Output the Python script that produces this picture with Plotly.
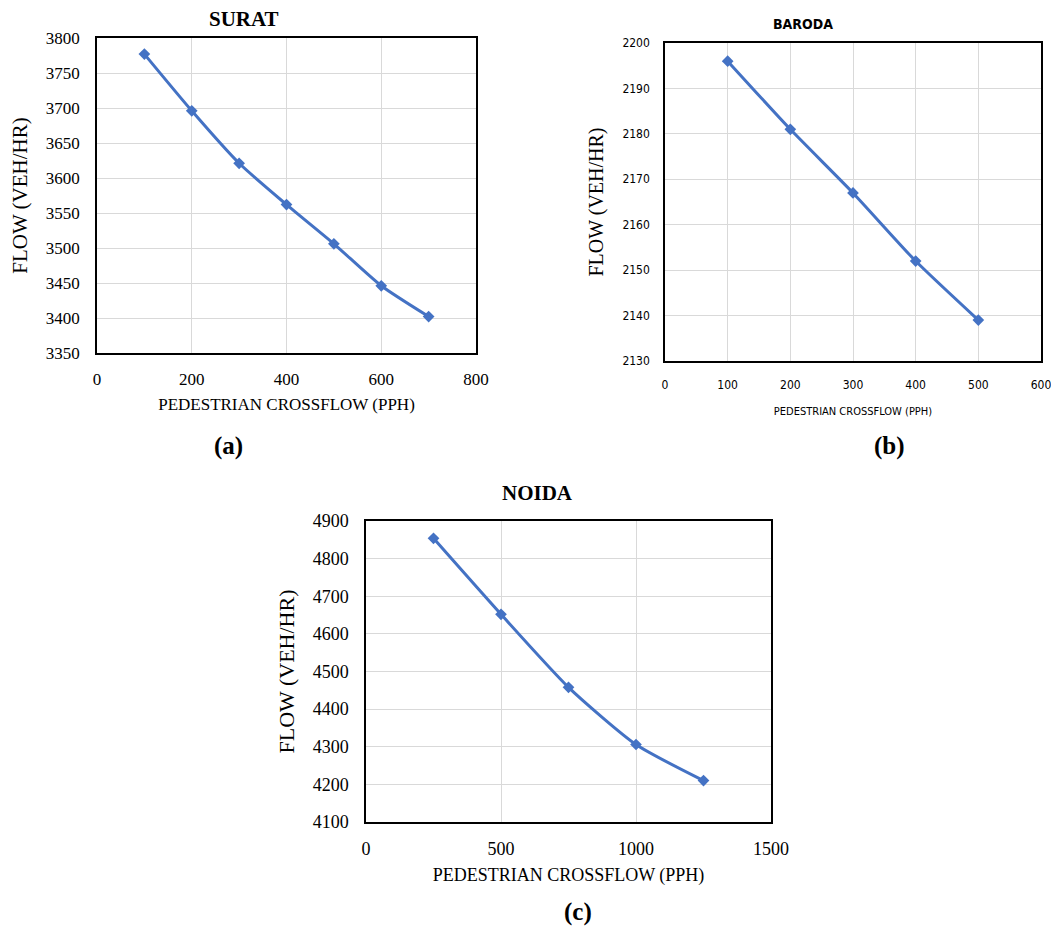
import plotly.graph_objects as go

W, H = 1051, 928
OFF = 0  # body margin is removed by the post script below

# ---- data ----
surat_x = [100, 200, 300, 400, 500, 600, 700]
surat_y = [3777, 3696, 3621, 3562, 3506, 3446, 3402]

baroda_x = [100, 200, 300, 400, 500]
baroda_y = [2196, 2181, 2167, 2152, 2139]

noida_x = [250, 500, 750, 1000, 1250]
noida_y = [4854, 4652, 4458, 4306, 4210]

x_title = "PEDESTRIAN CROSSFLOW (PPH)"
y_title = "FLOW (VEH/HR)"

BLUE = "#4472C4"
GRID = "#d9d9d9"
SERIF = "Liberation Serif, Times New Roman, serif"
NARROW = "DejaVu Sans Condensed, Liberation Sans Narrow, Arial Narrow, sans-serif"


def px_x(p):
    return (p - OFF) / W


def px_y(p):
    return 1 - (p - OFF) / H


fig = go.Figure()

for xs, ys, ax in [(surat_x, surat_y, ""), (baroda_x, baroda_y, "2"), (noida_x, noida_y, "3")]:
    fig.add_trace(go.Scatter(
        x=xs, y=ys, mode="lines+markers",
        xaxis="x" + ax, yaxis="y" + ax,
        line=dict(color=BLUE, width=3, shape="spline", smoothing=0.6),
        marker=dict(symbol="diamond", size=9, color=BLUE),
        showlegend=False, hoverinfo="x+y",
    ))


def axis(domain, rng, dtick, font, anchor, title, title_font, standoff, tls):
    return dict(
        domain=domain, range=rng, dtick=dtick, tick0=rng[0],
        showgrid=True, gridcolor=GRID, gridwidth=1,
        showline=True, linecolor="black", linewidth=1.5, mirror=True,
        zeroline=False, ticks="", tickfont=font, anchor=anchor,
        ticklabelstandoff=tls, ticklabeloverflow="allow", automargin=False,
        fixedrange=True,
        title=dict(text=title, font=title_font, standoff=standoff),
    )


serif17 = dict(family=SERIF, size=17, color="black")
serif18 = dict(family=SERIF, size=18, color="black")
narrow12 = dict(family=NARROW, size=12, color="black")

layout = dict(
    width=W, height=H,
    paper_bgcolor="white", plot_bgcolor="white",
    margin=dict(l=0, r=0, t=0, b=0, autoexpand=False),
    xaxis=axis([px_x(97), px_x(476)], [0, 800], 200, serif17, "y",
               x_title, dict(family=SERIF, size=17, color="black"), 10, 10),
    yaxis=axis([px_y(353), px_y(38)], [3350, 3800], 50, serif17, "x",
               y_title, dict(family=SERIF, size=21, color="black"), 12, 12),
    xaxis2=axis([px_x(665), px_x(1041)], [0, 600], 100, narrow12, "y2",
                x_title, dict(family=NARROW, size=11, color="black"), 16, 12),
    yaxis2=axis([px_y(361), px_y(43)], [2130, 2200], 10, narrow12, "x2",
                y_title, dict(family=SERIF, size=20, color="black"), 13, 11),
    xaxis3=axis([px_x(366), px_x(771)], [0, 1500], 500, serif18, "y3",
                x_title, dict(family=SERIF, size=18, color="black"), 10, 10),
    yaxis3=axis([px_y(822), px_y(521)], [4100, 4900], 100, serif18, "x3",
                y_title, dict(family=SERIF, size=22, color="black"), 12, 12),
)
fig.update_layout(**layout)

annotations = [
    dict(text="<b>SURAT</b>", x=px_x(244), y=px_y(19), font=dict(family=SERIF, size=21, color="black")),
    dict(text="<b>BARODA</b>", x=px_x(803), y=px_y(24), font=dict(family=NARROW, size=14, color="black")),
    dict(text="<b>NOIDA</b>", x=px_x(537), y=px_y(493), font=dict(family=SERIF, size=21, color="black")),
    dict(text="<b>(a)</b>", x=px_x(228), y=px_y(446), font=dict(family=SERIF, size=25, color="black")),
    dict(text="<b>(b)</b>", x=px_x(889), y=px_y(446), font=dict(family=SERIF, size=25, color="black")),
    dict(text="<b>(c)</b>", x=px_x(578), y=px_y(912), font=dict(family=SERIF, size=25, color="black")),
]
for a in annotations:
    a.update(xref="paper", yref="paper", showarrow=False, xanchor="center", yanchor="middle")
fig.update_layout(annotations=annotations)

fig.write_html(
    "out.html",
    config={"displayModeBar": False},
    post_script="document.body.style.margin='0';document.body.style.overflow='hidden';",
)
